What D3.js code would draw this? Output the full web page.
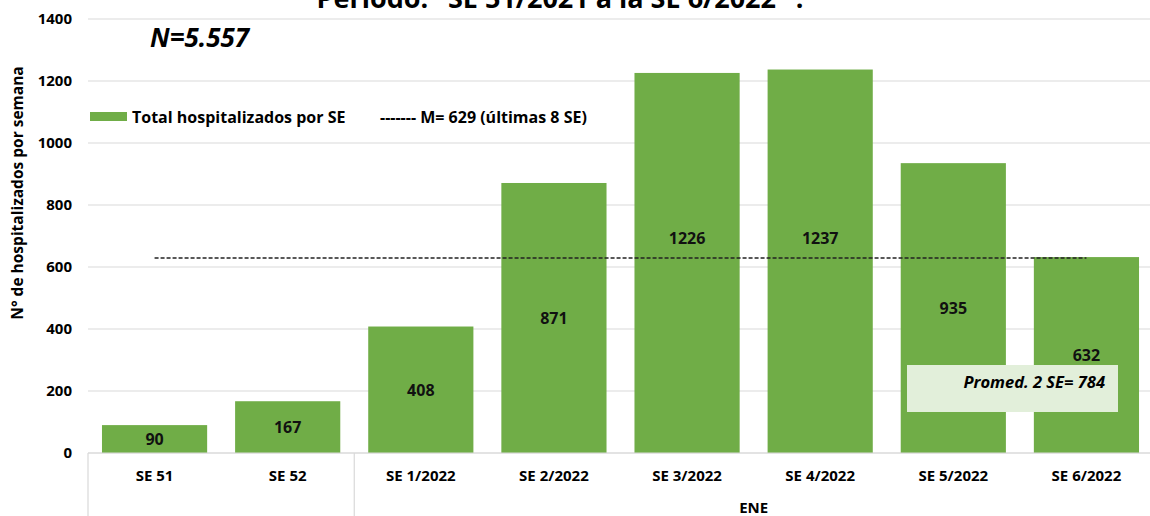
<!DOCTYPE html>
<html>
<head>
<meta charset="utf-8">
<script src="https://cdn.jsdelivr.net/npm/d3@7"></script>
<style>
  body { margin: 0; background: #fff; }
  text { font-family: "Open Sans", "Noto Sans", sans-serif; }
</style>
</head>
<body>
<script>
const weeks = ["SE 51", "SE 52", "SE 1/2022", "SE 2/2022", "SE 3/2022", "SE 4/2022", "SE 5/2022", "SE 6/2022"];
const hospitalized = [90, 167, 408, 871, 1226, 1237, 935, 632];
const groupNames = ["", "ENE"];
const groupSizes = [2, 6];
const meanValue = 629;
const yTicks = [0, 200, 400, 600, 800, 1000, 1200, 1400];

const W = 1150, H = 516;
const plotLeft = 88, plotRight = 1153, plotTop = 19, plotBottom = 453;

const svg = d3.select("body").append("svg")
  .attr("width", W)
  .attr("height", H);

let x = d3.scaleBand().domain(weeks).range([plotLeft, plotRight])
  .paddingInner(0.21).paddingOuter(0.105);
let y = d3.scaleLinear().domain([0, 1400]).range([plotBottom, plotTop]);

// grid
svg.append("g").selectAll("line")
  .data(yTicks)
  .join("line")
  .attr("x1", plotLeft).attr("x2", W)
  .attr("y1", d => y(d)).attr("y2", d => y(d))
  .attr("stroke", "#d9d9d9").attr("stroke-width", 1.2);

// y tick labels
svg.append("g").selectAll("text")
  .data(yTicks)
  .join("text")
  .attr("x", 72).attr("y", d => y(d) + 5)
  .attr("text-anchor", "end")
  .attr("font-size", 15).attr("font-weight", "bold")
  .text(d => d);

// bars
svg.append("g").selectAll("rect")
  .data(hospitalized)
  .join("rect")
  .attr("x", (d, i) => x(weeks[i]))
  .attr("y", d => y(d))
  .attr("width", x.bandwidth())
  .attr("height", d => y(0) - y(d))
  .attr("fill", "#70ad47");

// mean line
svg.append("line")
  .attr("x1", x(weeks[0]) + x.bandwidth() / 2)
  .attr("x2", x(weeks[weeks.length - 1]) + x.bandwidth() / 2)
  .attr("y1", y(meanValue)).attr("y2", y(meanValue))
  .attr("stroke", "#222").attr("stroke-width", 1.5)
  .attr("stroke-dasharray", "4,2");

// value labels (centred, lifted above the mean line where they would collide)
function labelY(d) {
  let c = (y(d) + y(0)) / 2;
  if (Math.abs(c - y(meanValue)) < 16) c = y(meanValue) - 20;
  return c + 6;
}
svg.append("g").selectAll("text")
  .data(hospitalized)
  .join("text")
  .attr("x", (d, i) => x(weeks[i]) + x.bandwidth() / 2)
  .attr("y", labelY)
  .attr("text-anchor", "middle")
  .attr("font-size", 16).attr("font-weight", "bold")
  .attr("fill", "#111")
  .text(d => d);

// x axis line and category labels
svg.append("line")
  .attr("x1", plotLeft).attr("x2", W)
  .attr("y1", plotBottom).attr("y2", plotBottom)
  .attr("stroke", "#d9d9d9").attr("stroke-width", 1.2);

svg.append("g").selectAll("text")
  .data(weeks)
  .join("text")
  .attr("x", d => x(d) + x.bandwidth() / 2)
  .attr("y", 481)
  .attr("text-anchor", "middle")
  .attr("font-size", 15).attr("font-weight", "bold")
  .text(d => d);

// group separators and labels
let start = 0;
groupSizes.forEach(function (n, g) {
  let x0 = g === 0 ? plotLeft : x(weeks[start]) - x.step() * x.paddingInner() / 2;
  svg.append("line")
    .attr("x1", x0).attr("x2", x0)
    .attr("y1", plotBottom).attr("y2", H)
    .attr("stroke", "#d9d9d9").attr("stroke-width", 1.2);
  let a = x(weeks[start]), b = x(weeks[start + n - 1]) + x.bandwidth();
  svg.append("text")
    .attr("x", (a + b) / 2).attr("y", 513)
    .attr("text-anchor", "middle")
    .attr("font-size", 15).attr("font-weight", "bold")
    .text(groupNames[g]);
  start += n;
});

// y axis title
svg.append("text")
  .attr("transform", "translate(23,193) rotate(-90)")
  .attr("text-anchor", "middle")
  .attr("font-size", 15.5).attr("font-weight", "bold")
  .text("N° de hospitalizados por semana");

// title (cut off at top, as in the source)
svg.append("text")
  .attr("x", 560).attr("y", 8)
  .attr("text-anchor", "middle")
  .attr("font-size", 27).attr("font-weight", "bold")
  .text("Período: \"SE 51/2021 a la SE 6/2022\" :");

// N label
svg.append("text")
  .attr("x", 150).attr("y", 47)
  .attr("font-size", 26).attr("font-weight", "bold").attr("font-style", "italic")
  .text("N=5.557");

// legend
svg.append("rect")
  .attr("x", 90).attr("y", 112).attr("width", 37).attr("height", 9)
  .attr("fill", "#70ad47");
svg.append("text")
  .attr("x", 132).attr("y", 123)
  .attr("font-size", 16).attr("font-weight", "bold")
  .text("Total hospitalizados por SE");
svg.append("text")
  .attr("x", 380).attr("y", 123)
  .attr("font-size", 16).attr("font-weight", "bold")
  .text("------- M= 629 (últimas 8 SE)");

// annotation box
svg.append("rect")
  .attr("x", 907).attr("y", 365).attr("width", 211).attr("height", 47)
  .attr("fill", "#e2efda");
svg.append("text")
  .attr("x", 1105).attr("y", 388)
  .attr("text-anchor", "end")
  .attr("font-size", 16.5).attr("font-weight", "bold").attr("font-style", "italic")
  .text("Promed. 2 SE= 784");
</script>
</body>
</html>
